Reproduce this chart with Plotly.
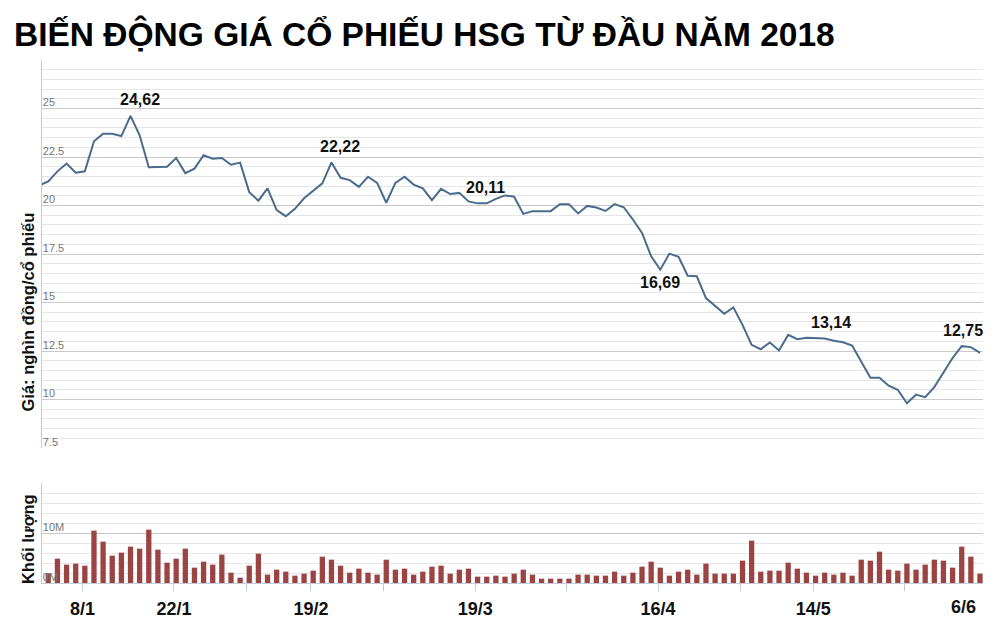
import plotly.graph_objects as go

# ---------------- data ----------------
# trading-day index (day -1 is the session just before the visible window)
price_day = list(range(-1, 103))
price = [21.04,
         21.24, 21.76, 22.16, 21.69, 21.76, 23.31, 23.70, 23.70, 23.58, 24.62,
         23.62, 21.97, 21.97, 22.00, 22.45, 21.67, 21.90, 22.59, 22.41, 22.45,
         22.10, 22.21, 20.69, 20.25, 20.88, 19.76, 19.45, 19.83, 20.37, 20.78,
         21.14, 22.22, 21.43, 21.31, 20.96, 21.48, 21.17, 20.14, 21.17, 21.48,
         21.08, 20.88, 20.28, 20.86, 20.59, 20.65, 20.21, 20.11, 20.11, 20.34,
         20.52, 20.45, 19.57, 19.71, 19.71, 19.71, 20.07, 20.07, 19.59, 19.98,
         19.90, 19.72, 20.07, 19.91, 19.28, 18.59, 17.38, 16.69, 17.52, 17.35,
         16.38, 16.35, 15.23, 14.80, 14.42, 14.75, 13.85, 12.82, 12.59, 12.94,
         12.53, 13.33, 13.11, 13.18, 13.16, 13.14, 13.03, 12.95, 12.78, 11.97,
         11.12, 11.12, 10.71, 10.50, 9.81, 10.25, 10.12, 10.64, 11.36, 12.14,
         12.75, 12.70, 12.40]

volume_day = list(range(0, 103))
volume_m = [1.93, 4.87, 3.67, 3.87, 3.47, 10.47, 8.27, 5.47, 6.07, 7.27,
            6.87, 10.67, 6.67, 4.07, 4.87, 6.87, 3.07, 4.27, 3.67, 5.67,
            2.07, 1.07, 3.47, 5.87, 1.67, 2.67, 2.27, 1.47, 1.87, 2.47,
            5.27, 4.67, 3.47, 2.07, 2.87, 2.07, 1.67, 4.67, 2.67, 2.87,
            1.67, 2.27, 3.27, 3.47, 1.87, 2.67, 2.87, 1.27, 1.27, 1.47,
            1.27, 1.87, 2.67, 1.67, 0.87, 0.87, 0.87, 0.87, 1.67, 1.67,
            1.47, 1.47, 2.27, 1.47, 2.07, 3.27, 4.27, 3.07, 1.47, 2.27,
            2.67, 1.67, 3.87, 1.87, 1.87, 1.87, 4.47, 8.47, 2.27, 2.47,
            2.47, 4.07, 2.87, 2.07, 1.47, 2.07, 1.67, 2.07, 1.47, 4.67,
            4.47, 6.27, 2.67, 2.47, 3.87, 2.67, 3.67, 4.67, 4.47, 3.07,
            7.27, 5.27, 1.87]

# x-axis ticks (trading-day index) and their labels
tick_day = [4, 14, 22, 29, 37, 47, 57, 67, 76, 84, 94]
tick_text = ["8/1", "22/1", "", "19/2", "", "19/3", "", "16/4", "", "14/5", ""]
last_label_day = 100.2
last_label = "6/6"

# highlighted price points
note_day = [9, 31, 47, 67, 85, 100]
note_text = ["24,62", "22,22", "20,11", "16,69", "13,14", "12,75"]
note_above = [True, True, True, False, True, True]
note_xshift = [9, 9, 8, 0, 6, 1]

price_ticks = [7.5, 10, 12.5, 15, 17.5, 20, 22.5, 25, 27.5]
price_tick_text = ["7.5", "10", "12.5", "15", "17.5", "20", "22.5", "25", ""]
vol_ticks = [0, 10, 20]
vol_tick_text = ["0M", "10M", ""]

# ---------------- figure ----------------
FONT = "Liberation Sans, Arial, sans-serif"
LINE_COL = "#4b6b8c"
BAR_COL = "#9c4444"
MAJOR = "#c9c9c9"
MINOR = "#e6e6e6"
AXIS = "#c3cdd8"
X_RANGE = [-0.69, 102.33]
W, H = 991, 624   # page body has an 8px margin

fig = go.Figure()
fig.add_trace(go.Scatter(x=price_day, y=price, mode="lines",
                         line=dict(color=LINE_COL, width=2),
                         xaxis="x", yaxis="y", hoverinfo="skip",
                         showlegend=False))
fig.add_trace(go.Bar(x=volume_day, y=volume_m, marker_color=BAR_COL,
                     marker_line_width=0, xaxis="x2", yaxis="y2",
                     showlegend=False))

annotations = []
for d, t, above, xs in zip(note_day, note_text, note_above, note_xshift):
    annotations.append(dict(x=d, y=price[price_day.index(d)], xref="x", yref="y",
                            text="<b>%s</b>" % t, showarrow=False,
                            xshift=xs, yshift=16 if above else -13,
                            font=dict(family=FONT, size=16, color="#111")))
annotations.append(dict(x=last_label_day, y=0, xref="x2", yref="paper",
                        text="<b>%s</b>" % last_label, showarrow=False,
                        yanchor="middle", yshift=-24,
                        font=dict(family=FONT, size=18, color="#111")))
annotations.append(dict(x=-0.0149, y=0.519, xref="paper", yref="paper",
                        text="<b>Giá: nghìn đồng/cổ phiếu</b>", textangle=-90,
                        showarrow=False, xanchor="center", yanchor="middle",
                        font=dict(family=FONT, size=16.5, color="#111")))
annotations.append(dict(x=-0.0149, y=0.084, xref="paper", yref="paper",
                        text="<b>Khối lượng</b>", textangle=-90,
                        showarrow=False, xanchor="center", yanchor="middle",
                        font=dict(family=FONT, size=16.5, color="#111")))

fig.update_layout(
    width=W, height=H,
    margin=dict(l=34, r=16, t=52, b=49, autoexpand=False),
    paper_bgcolor="white", plot_bgcolor="white",
    bargap=0.42,
    title=dict(text="<b>BIẾN ĐỘNG GIÁ CỔ PHIẾU HSG TỪ ĐẦU NĂM 2018</b>",
               x=6 / W, xanchor="left", xref="container",
               y=1 - 26 / H, yanchor="middle", yref="container",
               font=dict(family=FONT, size=33.5, color="#000")),
    xaxis=dict(domain=[0, 1], range=X_RANGE, anchor="y", automargin=False,
               showticklabels=False, showgrid=False, zeroline=False,
               showline=False, ticks=""),
    yaxis=dict(domain=[0.2581, 1], range=[7.5, 27.5], automargin=False,
               tickmode="array", tickvals=price_ticks, ticktext=price_tick_text,
               ticklabelposition="inside", ticklabelshift=-6, ticks="",
               tickfont=dict(family=FONT, size=11, color="#777"),
               showgrid=True, gridcolor=MAJOR, gridwidth=1,
               minor=dict(dtick=0.5, tick0=7.5, showgrid=True,
                          gridcolor=MINOR, gridwidth=1),
               showline=True, linecolor=AXIS, linewidth=1,
               zeroline=False, anchor="x"),
    xaxis2=dict(domain=[0, 1], range=X_RANGE, anchor="y2", matches="x",
                automargin=False,
                tickmode="array", tickvals=[d - 0.25 for d in tick_day],
                ticktext=["<b>%s</b>" % t if t else "" for t in tick_text],
                ticks="outside", ticklen=7, tickcolor=AXIS,
                ticklabelstandoff=2,
                tickfont=dict(family=FONT, size=18, color="#111"),
                showgrid=False, zeroline=False,
                showline=True, linecolor=AXIS, linewidth=1),
    yaxis2=dict(domain=[0, 0.1912], range=[0, 20], automargin=False,
                tickmode="array", tickvals=vol_ticks, ticktext=vol_tick_text,
                ticklabelposition="inside", ticklabelshift=-6, ticks="",
                tickfont=dict(family=FONT, size=11, color="#777"),
                showgrid=True, gridcolor=MAJOR, gridwidth=1,
                minor=dict(dtick=2, tick0=0, showgrid=True,
                           gridcolor=MINOR, gridwidth=1),
                showline=True, linecolor=AXIS, linewidth=1,
                zeroline=False, anchor="x2"),
    annotations=annotations,
)

fig.write_html("out.html")
